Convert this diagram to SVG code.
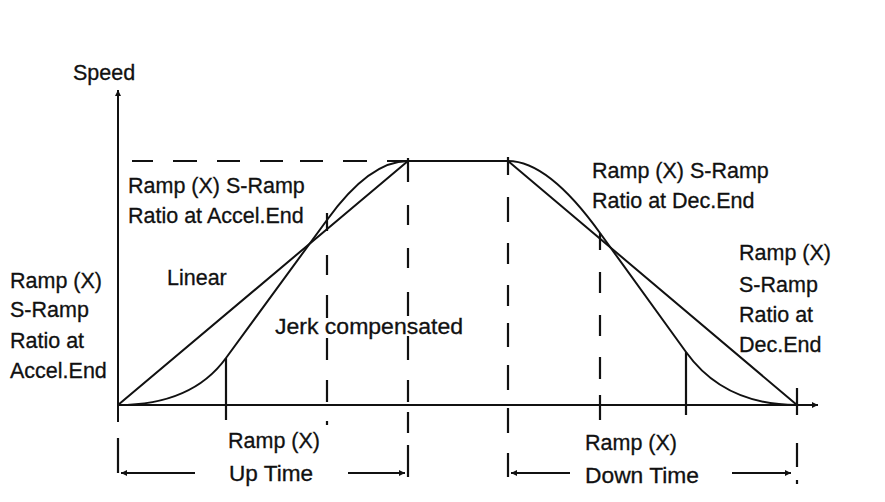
<svg xmlns="http://www.w3.org/2000/svg" width="885" height="502" viewBox="0 0 885 502">
<style>
.t{font-family:"Liberation Sans",Arial,sans-serif;font-size:21.5px;fill:#111;stroke:#111;stroke-width:0.3}
.ln{stroke:#111;stroke-width:2;fill:none}
.dl{stroke:#111;stroke-width:2.2;fill:none}
</style>
<defs>
<marker id="ah" viewBox="0 0 10 10" refX="10" refY="5" markerWidth="8" markerHeight="6" markerUnits="userSpaceOnUse" orient="auto">
<path d="M0,0 L10,5 L0,10 z" fill="#111"/>
</marker>
</defs>
<rect width="885" height="502" fill="#fff"/>
<g id="axes">
<path class="ln" d="M118,422 V90" marker-end="url(#ah)"/>
<path class="ln" d="M118,405 H818" marker-end="url(#ah)"/>
</g>
<g id="guides">
<path class="dl" d="M132,161H153M173,161H197M217,161H240M260,161H283M300,161H323M343,161H367M387,161H408"/>
<path class="dl" d="M408,158V182M408,205V225M408,248V268M408,292V316M408,336V360M408,380V402M408,412V433M408,445V477"/>
<path class="dl" d="M327,213V231M327,255V275M327,295V318M327,338V360M327,380V402M327,421V425"/>
<path class="dl" d="M508,157V175M508,197V222M508,243V264M508,285V306M508,323V347M508,365V390M508,408V433M508,453V477"/>
<path class="dl" d="M600,233V250M600,272V293M600,315V336M600,357V379M600,395V420"/>
<path class="dl" d="M226,358V420M686,352V415M797,388V415M797,443V467M797,480V484M118,438V473"/>
</g>
<g id="curves">
<path class="ln" d="M118,405 L408,161 H508 L797,405"/>
<path class="ln" d="M118,405 Q192,405 226,358 L327,220 C345,195 375,161 408,161"/>
<path class="ln" d="M508,161 C540,161 572,194 600,233 L686,352 Q724,405 797,405"/>
</g>
<g id="dimensions">
<path class="ln" d="M195,473 H121" marker-end="url(#ah)"/>
<path class="ln" d="M348,473 H405" marker-end="url(#ah)"/>
<path class="ln" d="M570,473 H511" marker-end="url(#ah)"/>
<path class="ln" d="M732,473 H791" marker-end="url(#ah)"/>
</g>
<g id="labels">
<text class="t" x="73" y="80">Speed</text>
<text class="t" x="128" y="193">Ramp (X) S-Ramp</text>
<text class="t" x="128" y="223">Ratio at Accel.End</text>
<text class="t" x="167" y="285">Linear</text>
<text class="t" x="10" y="288">Ramp (X)</text>
<text class="t" x="10" y="317">S-Ramp</text>
<text class="t" x="10" y="348">Ratio at</text>
<text class="t" x="10" y="378">Accel.End</text>
<text class="t" x="275" y="334" textLength="188" lengthAdjust="spacingAndGlyphs">Jerk compensated</text>
<text class="t" x="228" y="448">Ramp (X)</text>
<text class="t" x="229" y="481" textLength="84" lengthAdjust="spacingAndGlyphs">Up Time</text>
<text class="t" x="592" y="178">Ramp (X) S-Ramp</text>
<text class="t" x="592" y="208">Ratio at Dec.End</text>
<text class="t" x="739" y="260">Ramp (X)</text>
<text class="t" x="739" y="292">S-Ramp</text>
<text class="t" x="739" y="322">Ratio at</text>
<text class="t" x="739" y="352">Dec.End</text>
<text class="t" x="585" y="450">Ramp (X)</text>
<text class="t" x="585" y="483" textLength="114" lengthAdjust="spacingAndGlyphs">Down Time</text>
</g>
</svg>
